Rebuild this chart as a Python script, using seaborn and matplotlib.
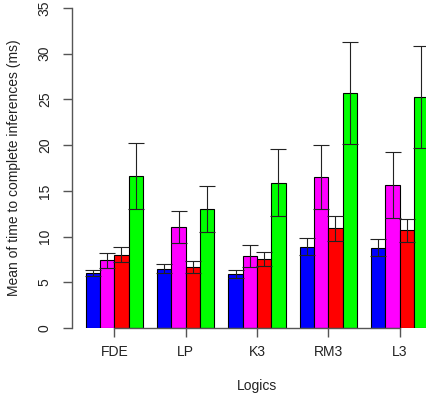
import numpy as np
import pandas as pd
import matplotlib
matplotlib.use("Agg")
import matplotlib.pyplot as plt
import seaborn as sns

logics = ["FDE", "LP", "K3", "RM3", "L3"]
series = ["S1", "S2", "S3", "S4"]
colors = ["#0000ff", "#ff00ff", "#ff0000", "#00ff00"]

mean_s1 = [6.0, 6.5, 5.9, 8.9, 8.8]
mean_s2 = [7.4, 11.1, 7.9, 16.5, 15.6]
mean_s3 = [8.0, 6.7, 7.5, 10.9, 10.7]
mean_s4 = [16.6, 13.0, 15.9, 25.7, 25.3]

err_s1 = [0.33, 0.45, 0.45, 0.93, 0.97]
err_s2 = [0.8, 1.75, 1.23, 3.53, 3.6]
err_s3 = [0.82, 0.65, 0.77, 1.35, 1.24]
err_s4 = [3.6, 2.5, 3.63, 5.58, 5.56]

means = [mean_s1, mean_s2, mean_s3, mean_s4]
errs = [err_s1, err_s2, err_s3, err_s4]

rows = []
for s, m, e in zip(series, means, errs):
    for lg, v, ev in zip(logics, m, e):
        rows.append({"logic": lg, "series": s, "mean": v, "err": ev})
df = pd.DataFrame(rows)

sns.set_style("white")
plt.rcParams["font.family"] = ["Liberation Sans", "DejaVu Sans"]

fig = plt.figure(figsize=(4.27, 4.0), dpi=100)
ax = fig.add_axes([72 / 427, 0.18, 370 / 427, 0.8])

sns.barplot(data=df, x="logic", y="mean", hue="series", order=logics,
            hue_order=series, palette=colors, saturation=1, width=0.8,
            errorbar=None, edgecolor="black", linewidth=0.8, legend=False, ax=ax)

# error bars on top of each bar
for bars, s in zip(ax.containers, series):
    sub = df[df["series"] == s].set_index("logic").loc[logics]
    xs = [b.get_x() + b.get_width() / 2 for b in bars]
    ax.errorbar(xs, sub["mean"], yerr=sub["err"], fmt="none", ecolor="#222222",
                elinewidth=0.8, capsize=5.8, capthick=0.8, zorder=5)

ax.set_xlim(-0.593, 4.593)
ax.set_ylim(0, 35)
ax.set_yticks(range(0, 36, 5))
ax.set_yticklabels([str(v) for v in range(0, 36, 5)], rotation=90, va="center")

for side in ["top", "right"]:
    ax.spines[side].set_visible(False)
ax.spines["left"].set_bounds(0, 35)
ax.spines["bottom"].set_bounds(0, 4)
for side in ["left", "bottom"]:
    ax.spines[side].set_color("#555555")
    ax.spines[side].set_linewidth(1.0)

ax.tick_params(axis="both", direction="out", length=6.5, width=1.0,
               color="#555555", labelsize=10, labelcolor="#222222",
               left=True, bottom=True)
ax.tick_params(axis="y", pad=8)
ax.tick_params(axis="x", pad=6)

ax.set_xlabel("Logics", fontsize=10, color="#222222", labelpad=14)
ax.set_ylabel("Mean of time to complete inferences (ms)", fontsize=10,
              color="#222222", labelpad=12)

fig.savefig("out.png", dpi=100)
